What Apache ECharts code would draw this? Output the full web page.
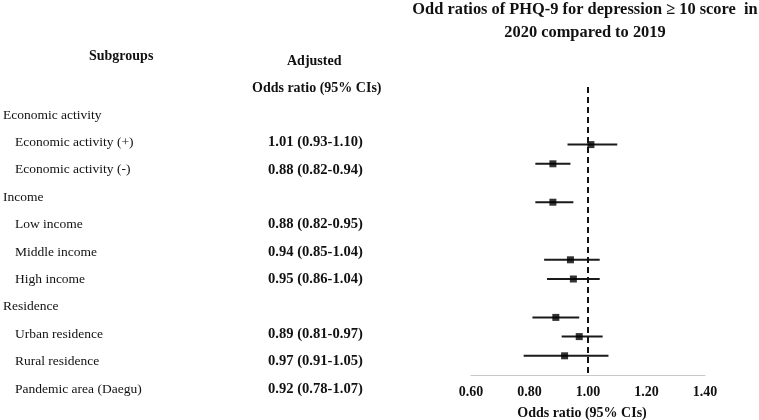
<!DOCTYPE html>
<html>
<head>
<meta charset="utf-8">
<script src="https://cdn.jsdelivr.net/npm/echarts@6/dist/echarts.min.js"></script>
<style>html,body{margin:0;padding:0;background:#fff;}#c{width:759px;height:420px;}</style>
</head>
<body>
<div id="c"></div>
<script>
// ---- data ----
var tableLabels = ['Economic activity', 'Economic activity (+)', 'Economic activity (-)', 'Income', 'Low income', 'Middle income', 'High income', 'Residence', 'Urban residence', 'Rural residence', 'Pandemic area (Daegu)'];
var isHeader = [true, false, false, true, false, false, false, true, false, false, false];
var orText = ['', '1.01 (0.93-1.10)', '0.88 (0.82-0.94)', '', '0.88 (0.82-0.95)', '0.94 (0.85-1.04)', '0.95 (0.86-1.04)', '', '0.89 (0.81-0.97)', '0.97 (0.91-1.05)', '0.92 (0.78-1.07)'];
var plotRows = [0, 1, 3, 6, 7, 9, 10, 11];
var oddsRatio = [1.01, 0.88, 0.88, 0.94, 0.95, 0.89, 0.97, 0.92];
var ciLow = [0.93, 0.82, 0.82, 0.85, 0.86, 0.81, 0.91, 0.78];
var ciHigh = [1.10, 0.94, 0.95, 1.04, 1.04, 0.97, 1.05, 1.07];
var xTicks = [0.60, 0.80, 1.00, 1.20, 1.40];
var refValue = 1.00;
var titleText = 'Odd ratios of PHQ-9 for depression \u2265 10 score  in\n2020 compared to 2019';
var colHeaders = ['Subgroups', 'Adjusted', 'Odds ratio (95% CIs)'];
var xAxisName = 'Odds ratio (95% CIs)';

var FONT = '"Liberation Serif", "Times New Roman", serif';
var INK = '#111';

var chart = echarts.init(document.getElementById('c'), null, {renderer: 'canvas'});

var pointData = plotRows.map(function (r, i) { return [oddsRatio[i], r]; });
var ciData = plotRows.map(function (r, i) { return [ciLow[i], ciHigh[i], r]; });

var option = {
  backgroundColor: '#fff',
  animation: false,
  title: {
    text: titleText,
    left: 580,
    top: -6,
    textAlign: 'center',
    textStyle: {fontFamily: FONT, fontWeight: 'bold', fontSize: 16.4, lineHeight: 22.5, color: INK}
  },
  graphic: [
    {type: 'text', left: 89, top: 49, style: {text: colHeaders[0], font: 'bold 14px ' + FONT, fill: INK}},
    {type: 'text', left: 287, top: 54, style: {text: colHeaders[1], font: 'bold 14px ' + FONT, fill: INK}},
    {type: 'text', left: 252, top: 81, style: {text: colHeaders[2], font: 'bold 14px ' + FONT, fill: INK}}
  ],
  grid: [
    {left: 471, right: 54, top: 87, bottom: 45, outerBoundsMode: 'none', containLabel: false},
    {left: 3, top: 115, width: 265, height: 274, outerBoundsMode: 'none', containLabel: false}
  ],
  xAxis: [
    {
      gridIndex: 0, type: 'value', min: 0.6, max: 1.4, interval: 0.2,
      axisLine: {show: true, onZero: false, lineStyle: {color: '#c8c8c8', width: 1}},
      axisTick: {show: false}, splitLine: {show: false},
      axisLabel: {
        margin: 10, color: INK, fontFamily: FONT, fontWeight: 'bold', fontSize: 14,
        formatter: function (v) { return v.toFixed(2); }
      },
      name: xAxisName, nameLocation: 'middle', nameGap: 31,
      nameTextStyle: {color: INK, fontFamily: FONT, fontWeight: 'bold', fontSize: 14, padding: [0, 12, 0, 0]}
    },
    {gridIndex: 1, type: 'value', min: 0, max: 1, show: false}
  ],
  yAxis: [
    {gridIndex: 0, type: 'value', min: -3, max: 12, inverse: true, show: false},
    {
      gridIndex: 1, type: 'category', data: tableLabels, boundaryGap: false, inverse: true, position: 'left',
      axisLine: {show: false}, axisTick: {show: false}, splitLine: {show: false},
      axisLabel: {
        inside: true, margin: 0, align: 'left', interval: 0,
        formatter: function (v, i) { return isHeader[i] ? '{h|' + v + '}' : '{i|' + v + '}'; },
        rich: {
          h: {fontFamily: FONT, fontSize: 13.5, color: INK},
          i: {fontFamily: FONT, fontSize: 13.5, color: INK, padding: [0, 0, 0, 12]}
        }
      }
    },
    {
      gridIndex: 1, type: 'category', data: tableLabels, boundaryGap: false, inverse: true, position: 'right',
      axisLine: {show: false}, axisTick: {show: false}, splitLine: {show: false},
      axisLabel: {
        margin: 0, align: 'left', interval: 0,
        fontFamily: FONT, fontWeight: 'bold', fontSize: 14.6, color: INK,
        formatter: function (v, i) { return orText[i]; }
      }
    }
  ],
  series: [
    {
      type: 'custom', xAxisIndex: 0, yAxisIndex: 0,
      encode: {x: [0, 1], y: 2},
      data: ciData,
      renderItem: function (params, api) {
        var p1 = api.coord([api.value(0), api.value(2)]);
        var p2 = api.coord([api.value(1), api.value(2)]);
        return {type: 'line', shape: {x1: p1[0], y1: p1[1], x2: p2[0], y2: p2[1]},
          style: {stroke: '#1a1a1a', lineWidth: 2}};
      },
      z: 2
    },
    {
      type: 'scatter', xAxisIndex: 0, yAxisIndex: 0,
      data: pointData, symbol: 'rect', symbolSize: 7,
      itemStyle: {color: '#000'},
      z: 3,
      markLine: {
        silent: true, symbol: 'none', label: {show: false},
        lineStyle: {color: '#111', width: 2, type: [6, 4]},
        data: [{xAxis: refValue}]
      }
    }
  ]
};
chart.setOption(option);
</script>
</body>
</html>
